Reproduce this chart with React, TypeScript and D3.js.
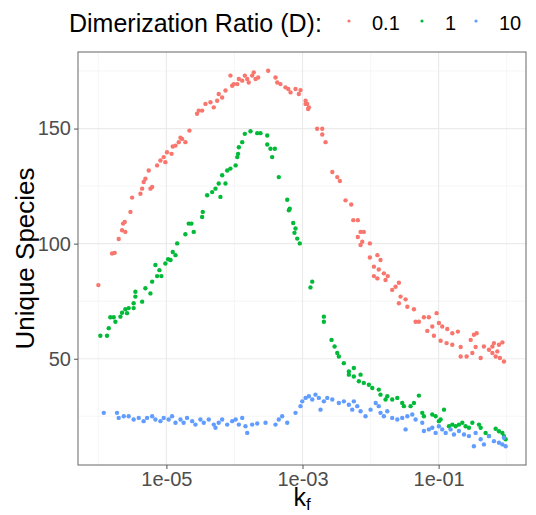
import { useEffect, useRef } from "react";
import * as d3 from "d3";

type Pt = [number, number];

// legend / series
const ratioLabels = ["0.1", "1", "10"];
const ratioColors = ["#F8766D", "#00BA38", "#619CFF"];

// axis ticks
const kfTicks = [1e-5, 1e-3, 1e-1];
const kfTickLabels = ["1e-05", "1e-03", "1e-01"];
const kfMinor = [1e-6, 1e-4, 1e-2, 1];
const speciesTicks = [50, 100, 150];
const speciesMinor = [25, 75, 125, 175];

// [kf, unique species]  D = 0.1
const ratio01: Pt[] = [
  [1.0e-6, 82], [1.59e-6, 95.7], [1.74e-6, 96], [1.99e-6, 102], [2.23e-6, 105.8],
  [2.31e-6, 108.7], [2.44e-6, 109.4], [2.49e-6, 105.1], [2.96e-6, 113.8], [3.13e-6, 120],
  [4.15e-6, 121.7], [4.4e-6, 123.9], [4.91e-6, 128.2], [4.63e-6, 126.8], [5.82e-6, 123.9],
  [5.5e-6, 131.8], [6.17e-6, 124.6], [7.3e-6, 134], [8.17e-6, 136.1], [9.12e-6, 137.6],
  [9.66e-6, 135.4], [1.02e-5, 139.7], [1.19e-5, 139], [1.24e-5, 142.2], [1.36e-5, 142.6],
  [1.52e-5, 144.1], [1.61e-5, 146], [1.7e-5, 145.5], [1.9e-5, 144.1], [2.18e-5, 149.1],
  [2.82e-5, 156.4], [2.99e-5, 157.8], [3.35e-5, 157.8], [3.75e-5, 160.7], [4.44e-5, 161.4],
  [4.97e-5, 159.2], [5.57e-5, 162.1], [5.87e-5, 165], [6.59e-5, 163.5], [7.38e-5, 166.5],
  [8.73e-5, 173], [9.25e-5, 168.6], [9.77e-5, 169.3], [1.1e-4, 169.3], [1.16e-4, 171.5],
  [1.3e-4, 170.8], [1.42e-4, 173], [1.54e-4, 171.5], [1.62e-4, 170], [1.82e-4, 173],
  [1.92e-4, 174.4], [2.04e-4, 171.5], [2.23e-4, 172.2], [3.13e-4, 175.1], [4.01e-4, 172.2],
  [4.25e-4, 170], [4.74e-4, 169.3], [5.62e-4, 167.9], [6.17e-4, 167.2], [6.67e-4, 165.7],
  [7.89e-4, 167.2], [8.83e-4, 165], [9.35e-4, 166.7], [1.11e-3, 160.7], [1.11e-3, 162.1],
  [1.21e-3, 158.5], [1.24e-3, 159.2], [1.17e-3, 160.7], [1.64e-3, 149.9], [1.95e-3, 149.9],
  [1.95e-3, 147.4], [2.18e-3, 144.1], [2.74e-3, 131.1], [3.24e-3, 128.9], [3.54e-3, 127.2],
  [4.29e-3, 118.8], [5.2e-3, 117], [5.57e-3, 110.2], [6.5e-3, 110.2], [7.13e-3, 105.1],
  [7.96e-3, 105.1], [6.5e-3, 102.9], [7.55e-3, 100.8], [7.13e-3, 99.4], [9.77e-3, 100.1],
  [9.77e-3, 94], [1.26e-2, 95], [1.4e-2, 92.9], [1.12e-2, 90], [1.32e-2, 88.8],
  [1.57e-2, 87.1], [1.12e-2, 85.9], [1.26e-2, 84.9], [1.79e-2, 85.9], [1.66e-2, 84.2],
  [2.08e-2, 79.9], [2.61e-2, 83], [2.33e-2, 81.3], [2.76e-2, 77], [3.27e-2, 75.8],
  [2.61e-2, 74.1], [3.47e-2, 72.6], [4.34e-2, 71.5], [4.59e-2, 66.1], [5.13e-2, 66.1],
  [6.08e-2, 68], [7.19e-2, 68], [6.82e-2, 62.1], [8.07e-2, 64], [9.35e-2, 69.8],
  [8.53e-2, 60], [1.01e-1, 65.5], [1.13e-1, 64], [1.07e-1, 57.8], [1.31e-1, 56.8],
  [1.34e-1, 62.9], [1.59e-1, 61.1], [1.59e-1, 56.1], [1.92e-1, 61.8], [2.11e-1, 55.1],
  [2.11e-1, 51], [2.58e-1, 51], [2.96e-1, 58.2], [3.3e-1, 60.4], [3.62e-1, 61.1],
  [3.13e-1, 52.5], [3.5e-1, 55.1], [4.15e-1, 50.3], [4.63e-1, 55.3], [5.5e-1, 53.9],
  [6.17e-1, 52.5], [6.5e-1, 56.8], [7.71e-1, 56.1], [8.65e-1, 57.1], [6.89e-1, 51],
  [7.96e-1, 50.3], [9.12e-1, 48.8], [7.3e-1, 53.2], [6.17e-1, 55.3],
];

// D = 1
const ratio1: Pt[] = [
  [1.07e-6, 60], [1.34e-6, 60], [1.42e-6, 63.3], [1.5e-6, 68], [1.68e-6, 68],
  [1.78e-6, 66.1], [2.11e-6, 68.3], [2.23e-6, 70], [2.49e-6, 71.5], [2.64e-6, 69.8],
  [2.79e-6, 72], [3.3e-6, 74.1], [3.5e-6, 77], [3.3e-6, 72], [3.5e-6, 79.1],
  [4.4e-6, 74.8], [4.91e-6, 80.6], [5.82e-6, 78.4], [6.17e-6, 83.5], [7.3e-6, 85.9],
  [8.43e-6, 85.9], [6.89e-6, 90.7], [7.89e-6, 88.5], [9.66e-6, 91.4], [1.06e-5, 93.2],
  [1.15e-5, 92.9], [1.24e-5, 96.4], [1.36e-5, 95], [1.44e-5, 100.1], [1.9e-5, 104.1],
  [2.13e-5, 108.7], [2.33e-5, 108.7], [2.52e-5, 105.1], [3.35e-5, 111.6], [3.42e-5, 113.8],
  [3.97e-5, 121], [4.7e-5, 122.4], [5.26e-5, 123.9], [5.87e-5, 126.1], [6.22e-5, 120.3],
  [6.59e-5, 129.7], [7.38e-5, 126.1], [7.82e-5, 131.8], [8.73e-5, 132.6], [1.04e-4, 134],
  [1.1e-4, 137.6], [1.13e-4, 139], [1.16e-4, 141.9], [1.3e-4, 144.1], [1.42e-4, 147.7],
  [1.72e-4, 148.8], [2.16e-4, 148], [2.41e-4, 148], [3.03e-4, 147], [3.03e-4, 143.1],
  [3.38e-4, 141.2], [3.92e-4, 141.2], [3.58e-4, 137.6], [4.48e-4, 128.9], [5.96e-4, 119.1],
  [6.3e-4, 114.5], [6.5e-4, 115.2], [7.3e-4, 109], [7.89e-4, 106.6], [7.62e-4, 104.7],
  [8.36e-4, 102.2], [9.12e-4, 100.1], [1.39e-3, 83.5], [1.31e-3, 81], [2.06e-3, 68.3],
  [2.06e-3, 66.1], [2.67e-3, 58.2], [2.96e-3, 55.3], [3.24e-3, 52.5], [3.42e-3, 51],
  [4.05e-3, 48.1], [4.8e-3, 44.5], [5.68e-3, 46], [4.8e-3, 43.1], [5.68e-3, 42.3],
  [7.13e-3, 43.1], [6.73e-3, 40.2], [7.96e-3, 39.5], [9.44e-3, 38.7], [1.06e-2, 37.3],
  [1.32e-2, 36.6], [1.4e-2, 34.4], [1.66e-2, 32.3], [1.76e-2, 33.7], [2.08e-2, 32.3],
  [2.47e-2, 33], [2.92e-2, 30.8], [3.09e-2, 29.4], [3.87e-2, 29.4], [4.34e-2, 30.8],
  [5.13e-2, 34], [5.75e-2, 26.5], [6.08e-2, 25], [8.07e-2, 25.8], [9.04e-2, 25],
  [1.01e-1, 22.9], [1.07e-1, 23.6], [1.2e-1, 27.9], [1.42e-1, 20.7], [1.59e-1, 21.4],
  [1.78e-1, 20.7], [1.99e-1, 21.4], [2.23e-1, 22.2], [2.49e-1, 20.7], [2.79e-1, 20],
  [3.13e-1, 22.2], [3.92e-1, 21.4], [4.15e-1, 20], [4.91e-1, 17.8], [5.5e-1, 16.4],
  [6.89e-1, 19.6], [7.71e-1, 18.5], [8.65e-1, 17.8], [9.12e-1, 16.4], [9.66e-1, 15],
];

// D = 10
const ratio10: Pt[] = [
  [1.2e-6, 26.5], [1.88e-6, 26.5], [1.99e-6, 24.3], [2.36e-6, 25], [2.79e-6, 25],
  [3.3e-6, 23.6], [3.92e-6, 24.3], [4.63e-6, 22.9], [5.2e-6, 24.3], [6.17e-6, 25],
  [6.89e-6, 23.6], [8.17e-6, 22.9], [9.12e-6, 24.3], [1.08e-5, 23.6], [1.21e-5, 25],
  [1.36e-5, 22.2], [1.61e-5, 23.6], [1.79e-5, 22.2], [2.01e-5, 24.3], [2.39e-5, 22.9],
  [2.67e-5, 21.4], [3.16e-5, 23.6], [3.54e-5, 22.2], [4.19e-5, 23.6], [4.97e-5, 21.4],
  [5.26e-5, 20], [5.87e-5, 22.2], [6.59e-5, 23.6], [7.82e-5, 21.4], [9.25e-5, 22.9],
  [1.04e-4, 23.6], [1.16e-4, 21.4], [1.3e-4, 24.3], [1.45e-4, 20.7], [1.54e-4, 17.8],
  [1.82e-4, 21.4], [2.16e-4, 21.9], [2.86e-4, 22.2], [4.01e-4, 21.4], [4.48e-4, 23.6],
  [5.02e-4, 25], [5.96e-4, 22.2], [7.89e-4, 26.5], [9.35e-4, 29.4], [9.91e-4, 31.5],
  [1.11e-3, 33], [1.24e-3, 33.7], [1.39e-3, 32.3], [1.55e-3, 34.4], [1.74e-3, 33],
  [1.84e-3, 27.9], [2.06e-3, 31.5], [2.31e-3, 33], [2.74e-3, 32.3], [3.42e-3, 30.8],
  [4.05e-3, 31.5], [4.8e-3, 30], [5.38e-3, 27.9], [5.68e-3, 31.5], [6.37e-3, 29.4],
  [7.13e-3, 27.2], [8.43e-3, 25], [1.0e-2, 27.9], [1.19e-2, 30.8], [1.32e-2, 29.4],
  [1.4e-2, 26.5], [1.57e-2, 25], [1.76e-2, 27.2], [2.08e-2, 24.3], [2.47e-2, 23.6],
  [2.92e-2, 24.3], [3.27e-2, 19.3], [3.47e-2, 25], [4.1e-2, 25.8], [4.59e-2, 23.6],
  [5.75e-2, 22.2], [6.08e-2, 18.6], [7.19e-2, 19.3], [8.07e-2, 20], [9.04e-2, 17.8],
  [1.01e-1, 20.7], [1.13e-1, 19.3], [1.27e-1, 17.8], [1.5e-1, 19.3], [1.68e-1, 17.1],
  [1.99e-1, 18.6], [2.36e-1, 17.1], [2.79e-1, 16.4], [3.3e-1, 12], [3.5e-1, 17.8],
  [4.15e-1, 15], [4.63e-1, 12.8], [5.5e-1, 16.4], [6.5e-1, 14.2], [7.71e-1, 13.5],
  [8.65e-1, 12.8], [9.66e-1, 12], [9.12e-1, 15.7],
];

const series = [ratio01, ratio1, ratio10];

const FONT = "'Liberation Sans', Arial, Helvetica, sans-serif";

const App = () => {
  const svgRef = useRef<SVGSVGElement | null>(null);

  useEffect(() => {
    const width = 536;
    const height = 515;
    const panel = { left: 78, right: 526, top: 52, bottom: 465 };

    const svg = d3.select(svgRef.current);
    svg.selectAll("*").remove();

    const all = series.flat();
    const [kMin, kMax] = d3.extent(all, (d) => d[0]) as [number, number];
    const [sMin, sMax] = d3.extent(all, (d) => d[1]) as [number, number];
    const lo = Math.log10(kMin);
    const hi = Math.log10(kMax);
    const padX = (hi - lo) * 0.05;
    const padY = (sMax - sMin) * 0.05;

    const x = d3
      .scaleLog()
      .domain([10 ** (lo - padX), 10 ** (hi + padX)])
      .range([panel.left, panel.right]);

    const y = d3
      .scaleLinear()
      .domain([sMin - padY, sMax + padY])
      .range([panel.bottom, panel.top]);

    svg.attr("width", width).attr("height", height);

    svg
      .append("rect")
      .attr("width", width)
      .attr("height", height)
      .attr("fill", "white");

    // grid (minor then major)
    const grid = svg.append("g");
    grid
      .selectAll(".vminor")
      .data(kfMinor)
      .enter()
      .append("line")
      .attr("x1", (d) => x(d))
      .attr("x2", (d) => x(d))
      .attr("y1", panel.top)
      .attr("y2", panel.bottom)
      .attr("stroke", "#F2F2F2")
      .attr("stroke-width", 0.7);
    grid
      .selectAll(".hminor")
      .data(speciesMinor)
      .enter()
      .append("line")
      .attr("x1", panel.left)
      .attr("x2", panel.right)
      .attr("y1", (d) => y(d))
      .attr("y2", (d) => y(d))
      .attr("stroke", "#F2F2F2")
      .attr("stroke-width", 0.7);
    grid
      .selectAll(".vmajor")
      .data(kfTicks)
      .enter()
      .append("line")
      .attr("x1", (d) => x(d))
      .attr("x2", (d) => x(d))
      .attr("y1", panel.top)
      .attr("y2", panel.bottom)
      .attr("stroke", "#EBEBEB")
      .attr("stroke-width", 1.2);
    grid
      .selectAll(".hmajor")
      .data(speciesTicks)
      .enter()
      .append("line")
      .attr("x1", panel.left)
      .attr("x2", panel.right)
      .attr("y1", (d) => y(d))
      .attr("y2", (d) => y(d))
      .attr("stroke", "#EBEBEB")
      .attr("stroke-width", 1.2);

    // points
    series.forEach((data, i) => {
      svg
        .append("g")
        .selectAll("circle")
        .data(data)
        .enter()
        .append("circle")
        .attr("cx", (d) => x(d[0]))
        .attr("cy", (d) => y(d[1]))
        .attr("r", 2.2)
        .attr("fill", ratioColors[i]);
    });

    // panel border
    svg
      .append("rect")
      .attr("x", panel.left)
      .attr("y", panel.top)
      .attr("width", panel.right - panel.left)
      .attr("height", panel.bottom - panel.top)
      .attr("fill", "none")
      .attr("stroke", "#666666")
      .attr("stroke-width", 1);

    // axes
    const xAxis = svg
      .append("g")
      .attr("transform", `translate(0,${panel.bottom})`)
      .call(
        d3
          .axisBottom(x)
          .tickValues(kfTicks)
          .tickSize(4)
          .tickPadding(3)
          .tickFormat((_, i) => kfTickLabels[i])
      );
    xAxis.select(".domain").remove();
    xAxis.selectAll("line").attr("stroke", "#555555");
    xAxis
      .selectAll("text")
      .attr("fill", "#4D4D4D")
      .style("font-family", FONT)
      .style("font-size", "20px");

    const yAxis = svg
      .append("g")
      .attr("transform", `translate(${panel.left},0)`)
      .call(
        d3
          .axisLeft(y)
          .tickValues(speciesTicks)
          .tickSize(4)
          .tickPadding(3)
          .tickFormat(d3.format("d"))
      );
    yAxis.select(".domain").remove();
    yAxis.selectAll("line").attr("stroke", "#555555");
    yAxis
      .selectAll("text")
      .attr("fill", "#4D4D4D")
      .style("font-family", FONT)
      .style("font-size", "20px");

    // axis titles
    const xTitle = svg
      .append("text")
      .attr("x", (panel.left + panel.right) / 2)
      .attr("y", 506)
      .attr("text-anchor", "middle")
      .style("font-family", FONT)
      .style("font-size", "25px")
      .attr("fill", "black");
    xTitle.append("tspan").text("k");
    xTitle
      .append("tspan")
      .attr("dy", 4)
      .style("font-size", "17px")
      .text("f");

    svg
      .append("text")
      .attr("transform", "rotate(-90)")
      .attr("x", -(panel.top + panel.bottom) / 2)
      .attr("y", 34)
      .attr("text-anchor", "middle")
      .style("font-family", FONT)
      .style("font-size", "26px")
      .attr("fill", "black")
      .text("Unique Species");

    // legend
    const legend = svg.append("g");
    legend
      .append("text")
      .attr("x", 69)
      .attr("y", 32)
      .style("font-family", FONT)
      .style("font-size", "25px")
      .attr("fill", "black")
      .text("Dimerization Ratio (D):");

    const keyX = [349, 422, 476];
    ratioLabels.forEach((lab, i) => {
      legend
        .append("circle")
        .attr("cx", keyX[i])
        .attr("cy", 21)
        .attr("r", 1.6)
        .attr("fill", ratioColors[i]);
      legend
        .append("text")
        .attr("x", keyX[i] + 23)
        .attr("y", 30)
        .style("font-family", FONT)
        .style("font-size", "20px")
        .attr("fill", "black")
        .text(lab);
    });
  }, []);

  return (
    <svg
      ref={svgRef}
      style={{ position: "absolute", left: 0, top: 0, display: "block" }}
    ></svg>
  );
};

export default App;
